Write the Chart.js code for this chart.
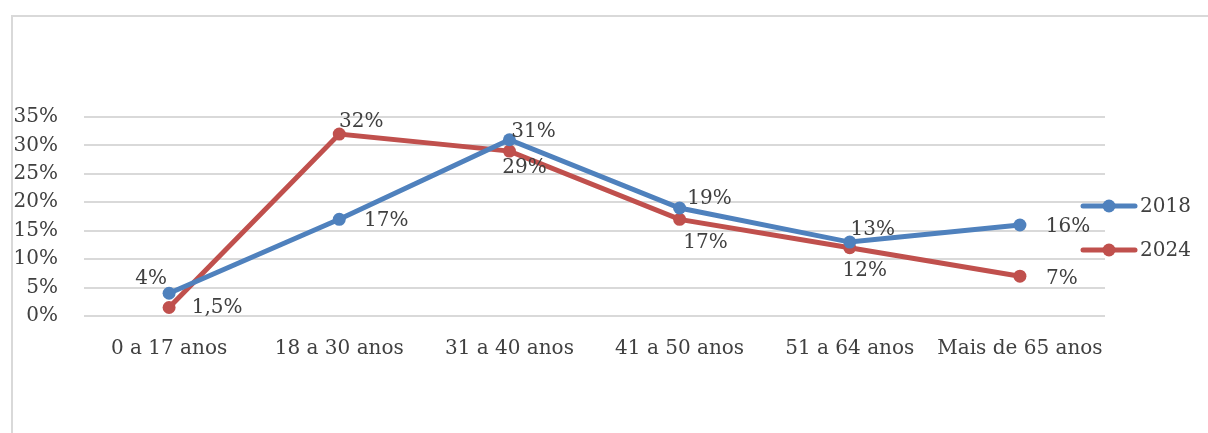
<!DOCTYPE html>
<html>
<head>
<meta charset="utf-8">
<script src="https://cdn.jsdelivr.net/npm/chart.js@4"></script>
<style>
  body { margin: 0; background: #fff; }
  #wrap { position: relative; width: 1208px; height: 433px; }
</style>
</head>
<body>
<div id="wrap"><canvas id="chart" width="1208" height="433"></canvas></div>
<script>
const categories = ["0 a 17 anos", "18 a 30 anos", "31 a 40 anos", "41 a 50 anos", "51 a 64 anos", "Mais de 65 anos"];
const values2018 = [4, 17, 31, 19, 13, 16];
const values2024 = [1.5, 32, 29, 17, 12, 7];
const labels2018 = ["4%", "17%", "31%", "19%", "13%", "16%"];
const labels2024 = ["1,5%", "32%", "29%", "17%", "12%", "7%"];
const yTicks = [0, 5, 10, 15, 20, 25, 30, 35];

const FONT = "DejaVu Serif";
const TEXT = "#404040";

// where each value label sits relative to its point (centre offsets)
const labelOffsets = [
  [[-18, -14], [47, 1], [24, -8], [30, -9], [23, -12], [48, 2]],
  [[48, 0], [22, -12], [15, 17], [26, 23], [15, 23], [42, 3]]
];
const valueLabels = [labels2018, labels2024];

const framePlugin = {
  id: "frame",
  beforeDraw(chart) {
    const ctx = chart.ctx;
    ctx.save();
    ctx.strokeStyle = "#d9d9d9";
    ctx.lineWidth = 2;
    ctx.strokeRect(12, 16, 1400, 600);
    ctx.restore();
  }
};

const labelPlugin = {
  id: "valueLabels",
  afterDatasetsDraw(chart) {
    const ctx = chart.ctx;
    ctx.save();
    ctx.font = "20px '" + FONT + "'";
    ctx.fillStyle = TEXT;
    ctx.textAlign = "center";
    ctx.textBaseline = "middle";
    chart.data.datasets.forEach((ds, i) => {
      chart.getDatasetMeta(i).data.forEach((pt, j) => {
        const off = labelOffsets[i][j];
        ctx.fillText(valueLabels[i][j], pt.x + off[0], pt.y + off[1]);
      });
    });
    ctx.restore();
  }
};

const legendPlugin = {
  id: "sideLegend",
  afterDraw(chart) {
    const ctx = chart.ctx;
    ctx.save();
    ctx.font = "20px '" + FONT + "'";
    ctx.textBaseline = "middle";
    ctx.textAlign = "left";
    chart.data.datasets.forEach((ds, i) => {
      const y = 206 + i * 44;
      ctx.strokeStyle = ds.borderColor;
      ctx.lineWidth = 5;
      ctx.lineCap = "round";
      ctx.beginPath();
      ctx.moveTo(1083, y);
      ctx.lineTo(1135, y);
      ctx.stroke();
      ctx.fillStyle = ds.borderColor;
      ctx.beginPath();
      ctx.arc(1109, y, 6.5, 0, Math.PI * 2);
      ctx.fill();
      ctx.fillStyle = TEXT;
      ctx.fillText(ds.label, 1140, y + 1);
    });
    ctx.restore();
  }
};

new Chart(document.getElementById("chart"), {
  type: "line",
  data: {
    labels: categories,
    datasets: [
      {
        label: "2018",
        data: values2018,
        borderColor: "#4f81bd",
        backgroundColor: "#4f81bd",
        borderWidth: 5,
        pointRadius: 6.5,
        pointBorderWidth: 0,
        tension: 0
      },
      {
        label: "2024",
        data: values2024,
        borderColor: "#c0504d",
        backgroundColor: "#c0504d",
        borderWidth: 5,
        pointRadius: 6.5,
        pointBorderWidth: 0,
        tension: 0
      }
    ]
  },
  options: {
    responsive: false,
    animation: false,
    layout: { padding: { top: 117, right: 103, left: 0, bottom: 0 } },
    plugins: {
      legend: { display: false },
      tooltip: { enabled: false }
    },
    scales: {
      x: {
        offset: true,
        grid: { display: false },
        border: { display: false },
        ticks: { color: TEXT, font: { family: FONT, size: 20 }, padding: 13, maxRotation: 0 },
        afterFit(scale) { scale.height = 117; }
      },
      y: {
        min: 0,
        max: 35,
        afterBuildTicks(scale) { scale.ticks = yTicks.map(v => ({ value: v })); },
        grid: { color: "#d9d9d9", lineWidth: 2, drawTicks: false },
        border: { display: false },
        ticks: {
          color: TEXT,
          font: { family: FONT, size: 20 },
          padding: 26,
          callback: v => v + "%"
        },
        afterFit(scale) { scale.width = 84; }
      }
    }
  },
  plugins: [framePlugin, labelPlugin, legendPlugin]
});
</script>
</body>
</html>
